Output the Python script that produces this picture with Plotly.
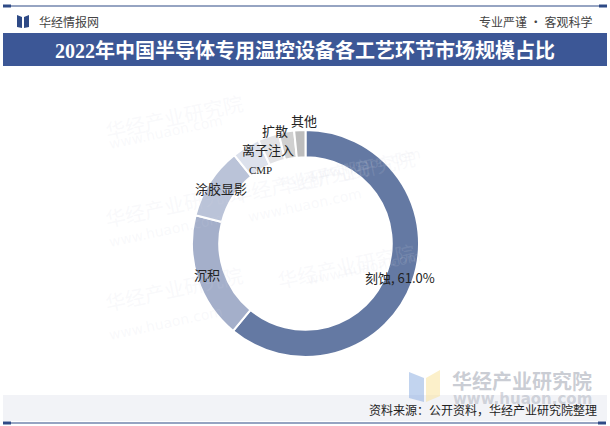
import math
import plotly.graph_objects as go

# ---- data ----
categories = ["刻蚀", "沉积", "涂胶显影", "CMP", "离子注入", "扩散", "其他"]
shares = [61.0, 18.0, 10.2, 4.0, 3.0, 2.2, 1.6]
label_texts = ["刻蚀, 61.0%", "沉积", "涂胶显影", "CMP", "离子注入", "扩散", "其他"]

title_text = "2022年中国半导体专用温控设备各工艺环节市场规模占比"
brand_left = "华经情报网"
brand_right = "专业严谨 • 客观科学"
source_text = "资料来源：公开资料，华经产业研究院整理"

# ---- style ----
colors = ["#6479A3", "#A4AFCA", "#BAC3D8", "#DCE1EC", "#E2E2E5", "#D0D0D0", "#BDBDBD"]
label_radius = [100, 101, 101, 86, 99, 115, 123]
label_dx = [0, -2, 0, 0, -5, -11, 5]
label_fonts = ["Noto Sans CJK SC"] * 3 + ["Liberation Serif"] + ["Noto Sans CJK SC"] * 3
label_sizes = [13, 13, 13, 11, 13, 13, 13]

W, H = 610, 426
CX, CY, R = 305.5, 243.5, 113.5
DARK = "#2E4A86"
BAR = "#3C5796"


def X(px):
    return px / W


def Y(py):
    return 1 - py / H


fig = go.Figure()
fig.add_trace(go.Pie(
    labels=categories,
    values=shares,
    hole=0.76,
    sort=False,
    direction="clockwise",
    rotation=0,
    textinfo="none",
    hoverinfo="label+percent",
    marker=dict(colors=colors, line=dict(color="white", width=2)),
    domain=dict(x=[X(CX - R), X(CX + R)], y=[Y(CY + R), Y(CY - R)]),
    showlegend=False,
))

annotations = []
shapes = []

# faint watermarks
wm_pos = [(100, 85), (100, 205), (100, 320), (420, 140), (420, 265), (300, 180)]
for (wx, wy) in wm_pos:
    annotations.append(dict(x=X(wx), y=Y(wy), xref="paper", yref="paper",
                            text="华经产业研究院", showarrow=False, textangle=-12,
                            font=dict(family="Noto Sans CJK SC", size=20, color="rgba(210,214,226,0.15)")))
    annotations.append(dict(x=X(wx + 5), y=Y(wy + 25), xref="paper", yref="paper",
                            text="www.huaon.com", showarrow=False, textangle=-12,
                            font=dict(family="DejaVu Sans", size=14, color="rgba(210,214,226,0.15)")))

# slice labels at ring mid-angle (computed from shares)
total = sum(shares)
cum = 0.0
for i, v in enumerate(shares):
    mid = (cum + v / 2) / total * 2 * math.pi
    cum += v
    px = CX + label_radius[i] * math.sin(mid) + label_dx[i]
    py = CY - label_radius[i] * math.cos(mid)
    annotations.append(dict(x=X(px), y=Y(py), xref="paper", yref="paper",
                            text=label_texts[i], showarrow=False,
                            xanchor="center", yanchor="middle",
                            font=dict(family=label_fonts[i], size=label_sizes[i], color="#222222")))

# top rule line
shapes.append(dict(type="line", xref="paper", yref="paper", x0=X(3), x1=X(606), y0=Y(6), y1=Y(6),
                   line=dict(color=DARK, width=1.2)))
shapes.append(dict(type="rect", xref="paper", yref="paper", x0=X(3), x1=X(11), y0=Y(7.5), y1=Y(4.5),
                   fillcolor=DARK, line=dict(width=0)))
shapes.append(dict(type="rect", xref="paper", yref="paper", x0=X(599), x1=X(607), y0=Y(7.5), y1=Y(4.5),
                   fillcolor=DARK, line=dict(width=0)))
# logo icon
shapes.append(dict(type="path", xref="paper", yref="paper",
                   path=f"M {X(17)} {Y(15)} L {X(22)} {Y(17)} L {X(22)} {Y(28)} L {X(17)} {Y(27)} Z",
                   fillcolor=DARK, line=dict(width=0)))
shapes.append(dict(type="path", xref="paper", yref="paper",
                   path=f"M {X(24)} {Y(17)} L {X(29)} {Y(15)} L {X(29)} {Y(27)} L {X(24)} {Y(28)} Z",
                   fillcolor=DARK, line=dict(width=0)))
# title bar
shapes.append(dict(type="rect", xref="paper", yref="paper", x0=X(3), x1=X(607), y0=Y(66), y1=Y(33),
                   fillcolor=BAR, line=dict(width=0), layer="below"))
# footer band
shapes.append(dict(type="rect", xref="paper", yref="paper", x0=X(3), x1=X(607), y0=Y(421), y1=Y(395),
                   fillcolor="#F2F3F7", line=dict(width=0), layer="below"))
shapes.append(dict(type="line", xref="paper", yref="paper", x0=X(3), x1=X(606), y0=Y(423), y1=Y(423),
                   line=dict(color=DARK, width=1.2)))
shapes.append(dict(type="rect", xref="paper", yref="paper", x0=X(3), x1=X(11), y0=Y(424.5), y1=Y(421.5),
                   fillcolor=DARK, line=dict(width=0)))
shapes.append(dict(type="rect", xref="paper", yref="paper", x0=X(598), x1=X(606), y0=Y(424.5), y1=Y(421.5),
                   fillcolor=DARK, line=dict(width=0)))
# bottom-right watermark logo
shapes.append(dict(type="path", xref="paper", yref="paper",
                   path=f"M {X(409)} {Y(372)} L {X(424)} {Y(378)} L {X(424)} {Y(402)} L {X(409)} {Y(398)} Z",
                   fillcolor="rgba(120,160,220,0.45)", line=dict(width=0)))
shapes.append(dict(type="path", xref="paper", yref="paper",
                   path=f"M {X(426)} {Y(378)} L {X(440)} {Y(370)} L {X(440)} {Y(396)} L {X(426)} {Y(402)} Z",
                   fillcolor="rgba(250,225,150,0.5)", line=dict(width=0)))

annotations += [
    dict(x=X(37), y=Y(21), xref="paper", yref="paper", text=brand_left, showarrow=False,
         xanchor="left", yanchor="middle", font=dict(family="Noto Sans CJK SC", size=12, color="#444444")),
    dict(x=X(594), y=Y(21), xref="paper", yref="paper", text=brand_right, showarrow=False,
         xanchor="right", yanchor="middle", font=dict(family="Noto Sans CJK SC", size=12, color="#444444")),
    dict(x=X(305), y=Y(50), xref="paper", yref="paper", text=f"<b>{title_text}</b>", showarrow=False,
         xanchor="center", yanchor="middle", font=dict(family="Liberation Serif, Noto Sans CJK SC", size=20, color="white")),
    dict(x=X(522), y=Y(380), xref="paper", yref="paper", text="<b>华经产业研究院</b>", showarrow=False,
         xanchor="center", yanchor="middle", font=dict(family="Noto Sans CJK SC", size=20, color="rgba(150,156,170,0.5)")),
    dict(x=X(522), y=Y(399), xref="paper", yref="paper", text="<b>www.huaon.com</b>", showarrow=False,
         xanchor="center", yanchor="middle", font=dict(family="DejaVu Sans", size=15, color="rgba(150,156,170,0.4)")),
    dict(x=X(599), y=Y(409), xref="paper", yref="paper", text=source_text, showarrow=False,
         xanchor="right", yanchor="middle", font=dict(family="Noto Sans CJK SC", size=12, color="#222222")),
]

fig.update_layout(
    width=W, height=H,
    margin=dict(l=0, r=0, t=0, b=0),
    paper_bgcolor="white",
    plot_bgcolor="white",
    shapes=shapes,
    annotations=annotations,
)

fig.write_html("out.html", config={"displayModeBar": False},
               post_script="document.body.style.margin='0px';document.body.style.overflow='hidden';")
